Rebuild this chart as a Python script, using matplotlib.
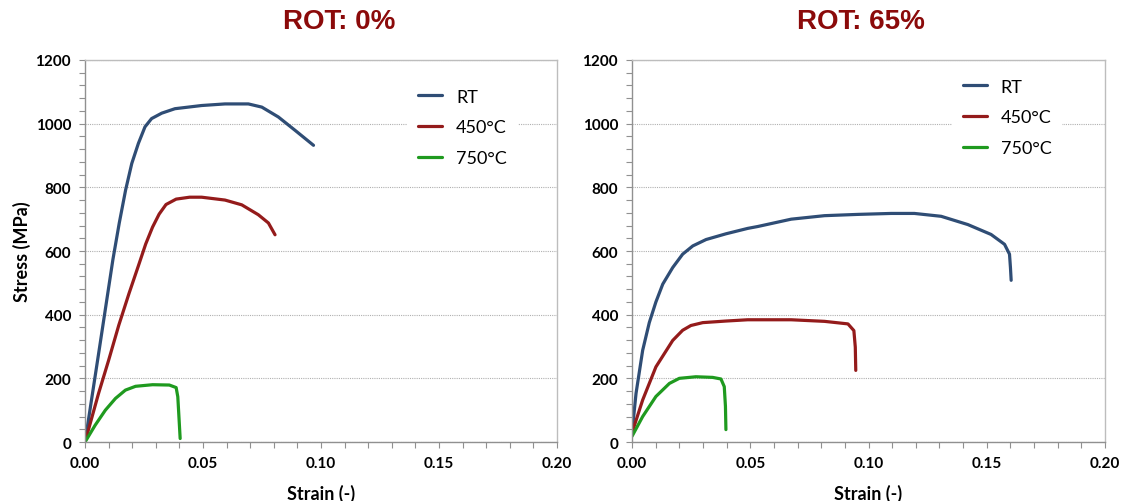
"""Stress-strain curves at three test temperatures for two ROT levels."""

import matplotlib
matplotlib.use("Agg")
import matplotlib.pyplot as plt
from matplotlib.font_manager import FontProperties
from matplotlib.ticker import MultipleLocator

# ROT 0 %
rt0_strain = [0.0, 0.006, 0.0118, 0.0145, 0.0172, 0.0198, 0.0226, 0.0254, 0.0282,
              0.0325, 0.0381, 0.0494, 0.0593, 0.0692, 0.0749, 0.0819, 0.089, 0.0968]
rt0_stress = [0, 290, 573, 688, 792, 875, 938, 990, 1016,
              1033, 1047, 1057, 1062, 1062, 1052, 1021, 979, 932]
t450_0_strain = [0.0, 0.0057, 0.010, 0.0143, 0.0186, 0.0229, 0.0257, 0.0286,
                 0.0314, 0.0343, 0.0386, 0.0443, 0.0494, 0.0593, 0.0664,
                 0.0734, 0.0777, 0.0805]
t450_0_stress = [0, 152, 257, 367, 466, 560, 622, 675,
                 716, 746, 763, 769, 769, 760, 745,
                 714, 688, 651]
t750_0_strain = [0.0, 0.0043, 0.0086, 0.0129, 0.0171, 0.0214, 0.0286, 0.0357,
                 0.0386, 0.0393, 0.0397, 0.0403]
t750_0_stress = [0, 53, 100, 137, 163, 175, 180, 179, 171, 142, 90, 11]

# ROT 65 %
rt65_strain = [0.0, 0.0017, 0.0045, 0.0073, 0.0101, 0.013, 0.0172, 0.0214, 0.0257,
               0.0313, 0.0397, 0.0489, 0.0532, 0.0673, 0.0814, 0.0955, 0.1096,
               0.1194, 0.1307, 0.142, 0.1518, 0.1575, 0.1596, 0.160, 0.1603]
rt65_stress = [29, 153, 288, 375, 440, 496, 548, 590, 616,
               636, 654, 671, 677, 700, 711, 715, 718,
               718, 709, 683, 652, 621, 590, 548, 508]
t450_65_strain = [0.0, 0.0045, 0.0101, 0.0172, 0.0214, 0.0249, 0.0299, 0.0397,
                  0.0489, 0.0673, 0.0814, 0.0913, 0.0938, 0.0944, 0.0946]
t450_65_stress = [29, 132, 236, 319, 351, 366, 375, 380,
                  384, 384, 379, 371, 350, 298, 225]
t750_65_strain = [0.0, 0.0045, 0.0101, 0.0158, 0.020, 0.027, 0.0341, 0.0376,
                  0.039, 0.0395, 0.0397]
t750_65_stress = [18, 80, 143, 184, 200, 205, 203, 198, 174, 112, 39]

labels = ["RT", "450°C", "750°C"]
colors = ["#2f4d75", "#941b1b", "#1f9a1f"]
titles = ["ROT: 0%", "ROT: 65%"]
curves_by_panel = [
    [(rt0_strain, rt0_stress), (t450_0_strain, t450_0_stress),
     (t750_0_strain, t750_0_stress)],
    [(rt65_strain, rt65_stress), (t450_65_strain, t450_65_stress),
     (t750_65_strain, t750_65_stress)],
]

tick_font = FontProperties(family="Lato", weight="bold", size=11)

fig = plt.figure(figsize=(11.22, 5.02), dpi=100)
axes = [fig.add_axes([0.0758, 0.1175, 0.4207, 0.761]),
        fig.add_axes([0.5633, 0.1175, 0.4216, 0.761])]
title_x = [0.3026, 0.7674]
legend_anchor = [(0.663, 0.977), (0.657, 1.003)]

for i, ax in enumerate(axes):
    for (x, y), label, color in zip(curves_by_panel[i], labels, colors):
        ax.plot(x, y, color=color, lw=2.3, label=label,
                solid_capstyle="round", solid_joinstyle="round")

    ax.set_xlim(0, 0.2)
    ax.set_ylim(0, 1200)
    ax.xaxis.set_major_locator(MultipleLocator(0.05))
    ax.xaxis.set_minor_locator(MultipleLocator(0.01))
    ax.yaxis.set_major_locator(MultipleLocator(200))
    ax.yaxis.set_minor_locator(MultipleLocator(40))
    ax.xaxis.set_major_formatter(lambda v, pos: f"{v:.2f}")
    ax.tick_params(which="both", direction="out", length=4, width=0.8,
                   color="#909090", pad=6)
    for lab in ax.get_xticklabels() + ax.get_yticklabels():
        lab.set_fontproperties(tick_font)

    ax.grid(axis="y", which="major", color="#b0b0b0", lw=0.8, ls=(0, (1, 1)))
    ax.set_axisbelow(True)
    for side in ax.spines.values():
        side.set_color("#bdbdbd")
        side.set_linewidth(1.0)
    ax.spines["left"].set_color("#909090")
    ax.spines["bottom"].set_color("#909090")

    ax.set_xlabel("Strain (-)", fontsize=13, fontweight="bold", family="Lato",
                  labelpad=10)
    fig.text(title_x[i], 0.956, titles[i], ha="center", va="center",
             fontsize=20, fontweight="bold", color="#8b0a0a",
             family="Liberation Sans")

    ax.legend(loc="upper left", bbox_to_anchor=legend_anchor[i], frameon=True,
              fancybox=False, edgecolor="none", facecolor="white",
              framealpha=1.0, prop={"family": "Lato", "size": 13},
              handlelength=1.33, handletextpad=0.78, labelspacing=0.81,
              borderpad=0.6)

axes[0].set_ylabel("Stress (MPa)", fontsize=13, fontweight="bold", family="Lato",
                   labelpad=3)

fig.savefig("out.png", dpi=100)
